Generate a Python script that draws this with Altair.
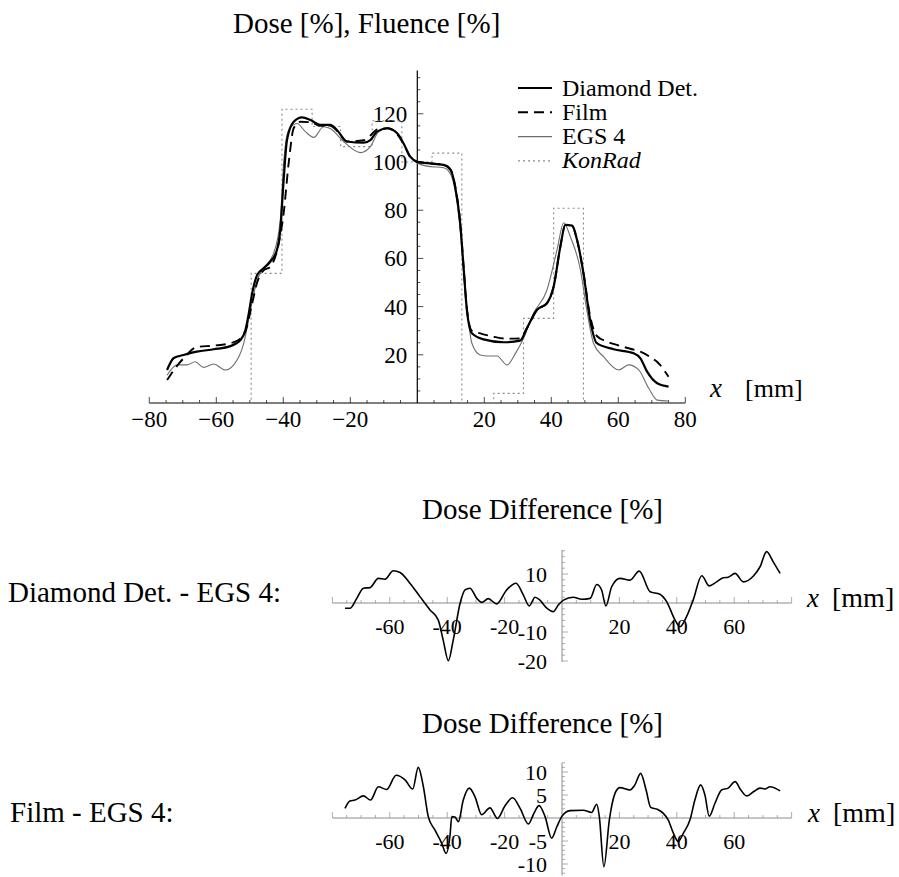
import altair as alt
import pandas as pd

W, H = 899, 877
FONT = "Liberation Serif"

# ------------------------------------------------------------------ data
series_names = ["Diamond Det.", "Film", "EGS 4", "KonRad"]

diamond_x = [-74.7, -72.7, -69.8, -65.8, -60.8, -55.8, -52.8, -51.3, -50.3, -49.3,
             -47.8, -45.9, -43.9, -41.9, -40.9, -39.9, -38.9, -36.9, -34.4, -31.9,
             -29.0, -26.0, -24.0, -21.0, -16.0, -14.0, -12.0, -9.0, -6.0, -4.1,
             -2.1, 0.0, 3.0, 7.9, 9.9, 11.3, 12.8, 13.8, 14.8, 16.3,
             19.8, 25.8, 30.7, 32.7, 35.7, 38.7, 40.7, 42.7, 44.2, 46.2,
             47.7, 49.6, 51.6, 53.6, 58.6, 64.6, 66.6, 68.6, 71.6, 75.0]
diamond_y = [13.7, 18.7, 19.9, 21.3, 22.3, 23.6, 26.1, 30.3, 37.2, 45.5,
             53.1, 55.9, 58.6, 63.5, 71.8, 92.5, 109.1, 116.7, 118.5, 117.4,
             115.4, 115.4, 113.3, 108.5, 108.0, 109.1, 112.6, 114.0, 111.9, 107.7,
             102.2, 100.1, 99.5, 98.8, 96.7, 89.8, 74.6, 56.6, 38.6, 28.9,
             26.4, 25.2, 25.9, 31.0, 38.6, 41.4, 48.3, 64.9, 73.9, 73.6,
             67.6, 53.8, 34.4, 24.8, 22.3, 20.6, 18.5, 13.0, 8.2, 6.8]

film_x = [-74.7, -72.5, -69.8, -65.8, -60.8, -55.8, -52.8, -51.0, -49.5, -47.8,
          -45.9, -43.9, -41.4, -39.9, -38.4, -36.9, -34.9, -31.9, -29.0, -26.0,
          -24.0, -21.0, -16.0, -14.0, -12.0, -9.0, -6.0, -4.1, -2.1, 0.0,
          3.0, 7.9, 9.9, 11.3, 12.8, 13.8, 14.8, 16.3, 18.8, 22.8,
          26.8, 30.7, 32.7, 35.7, 38.7, 40.7, 42.7, 44.2, 46.2, 47.7,
          49.6, 51.6, 53.6, 56.6, 59.6, 63.6, 66.6, 69.6, 72.0, 75.0]
film_y = [9.5, 14.0, 18.5, 23.2, 23.8, 24.8, 26.7, 31.0, 40.0, 50.0,
          55.0, 56.5, 66.0, 78.7, 99.5, 114.0, 116.7, 116.5, 115.0, 115.0,
          113.0, 108.5, 109.0, 111.0, 113.5, 114.0, 111.5, 107.5, 102.0, 100.0,
          99.5, 98.8, 97.0, 90.0, 75.0, 57.0, 39.0, 30.0, 28.9, 27.5,
          26.7, 26.8, 31.0, 38.6, 41.4, 48.3, 64.9, 73.9, 73.6, 67.6,
          54.0, 36.0, 27.8, 25.5, 24.1, 22.5, 21.3, 19.0, 16.5, 10.9]

egs_x = [-74.7, -71.7, -68.8, -66.3, -63.8, -60.8, -57.3, -54.8, -51.8, -49.8,
         -47.8, -45.9, -42.9, -40.9, -39.9, -38.4, -35.9, -33.4, -30.9, -28.0,
         -26.0, -22.0, -17.0, -14.0, -11.5, -8.5, -5.1, -2.1, 0.0, 2.9,
         7.9, 9.9, 11.3, 12.8, 13.8, 14.8, 16.3, 18.8, 21.0, 23.8,
         26.8, 29.3, 31.7, 34.7, 38.7, 41.7, 43.7, 45.7, 48.7, 50.6,
         52.6, 55.6, 60.1, 63.1, 66.1, 69.1, 71.6, 75.0]
egs_y = [11.5, 15.8, 15.8, 17.1, 14.8, 16.2, 13.7, 15.8, 24.8, 38.6,
         51.0, 55.9, 62.1, 75.9, 99.5, 113.3, 116.0, 112.6, 110.2, 114.6,
         113.9, 108.5, 103.9, 106.4, 112.6, 114.0, 110.5, 102.2, 99.6, 98.3,
         97.6, 95.0, 88.0, 72.0, 55.0, 40.0, 24.8, 19.9, 19.5, 19.5,
         15.8, 20.6, 26.8, 37.2, 46.9, 63.5, 74.8, 69.0, 55.2, 38.6,
         24.8, 19.2, 13.7, 15.8, 13.7, 6.1, 1.2, 0.8]

# KonRad fluence: step levels starting at each edge (step-after)
konrad_x = [-80.0, -49.6, -40.4, -31.4, -22.9, -13.5, -4.6, 4.4, 13.3, 22.8, 31.7, 40.7, 49.6, 80.0]
konrad_y = [0.0, 53.8, 121.9, 114.7, 106.4, 117.1, 100.0, 103.7, 0.0, 4.0, 35.1, 80.8, 0.0, 0.0]

# Dose difference Diamond Det. - EGS 4
diff1_x = [-75.6, -73.9, -71.5, -69.2, -66.9, -64.0, -61.7, -58.8, -56.4, -53.0,
           -49.5, -46.0, -43.1, -41.4, -39.6, -37.9, -35.5, -33.8, -32.1, -29.7,
           -28.0, -25.7, -22.8, -19.3, -16.0, -13.5, -11.4, -9.4, -7.7, -5.3,
           -3.0, -1.3, 0.5, 3.9, 6.9, 9.8, 12.1, 13.8, 15.3, 17.3,
           20.2, 23.7, 26.9, 30.7, 34.1, 36.5, 39.4, 41.1, 43.4, 45.7,
           48.7, 51.3, 53.9, 56.2, 57.9, 60.3, 63.2, 66.7, 69.0, 71.3,
           73.6, 76.0]
diff1_y = [-1.8, -1.8, 1.6, 5.1, 5.3, 8.5, 8.2, 11.1, 10.5, 6.8,
           2.2, -2.4, -5.9, -12.8, -19.9, -12.8, -0.1, 4.5, 5.1, 1.6,
           0.2, 1.5, -0.3, 4.5, 6.8, 2.8, -1.0, 2.0, 1.0, -1.8,
           -3.0, -0.7, 1.0, 2.0, 1.3, 1.6, 6.4, 4.5, -1.0, 5.6,
           8.5, 7.9, 11.0, 3.9, 3.0, 0.4, -5.9, -8.2, -4.7, 1.0,
           9.4, 5.9, 7.3, 8.7, 8.9, 10.2, 7.3, 9.3, 12.5, 17.7,
           14.2, 10.2]

# Dose difference Film - EGS 4
diff2_x = [-75.6, -73.9, -72.1, -69.2, -66.7, -64.0, -61.1, -57.8, -54.7, -52.0,
           -50.1, -48.3, -46.6, -44.3, -41.9, -40.4, -39.0, -38.4, -37.3, -36.1,
           -34.4, -32.3, -30.3, -28.0, -25.1, -22.5, -19.9, -17.2, -14.6, -11.7,
           -9.8, -8.0, -5.9, -3.6, -1.8, -0.1, 2.8, 7.4, 10.3, 12.1,
           13.0, 14.6, 16.5, 18.5, 20.2, 23.7, 25.4, 27.4, 29.3, 30.9,
           33.2, 35.3, 37.0, 38.8, 40.5, 42.3, 44.6, 46.3, 48.3, 49.8,
           51.3, 53.3, 55.6, 57.9, 60.3, 62.3, 64.3, 66.7, 69.0, 70.7,
           72.5, 76.0]
diff2_y = [2.1, 3.7, 3.9, 4.8, 3.9, 6.8, 6.2, 9.3, 8.3, 6.3,
           11.0, 6.8, 0.3, -2.6, -5.5, -7.7, -3.7, 0.3, 0.2, -0.8,
           3.9, 6.5, 4.6, 0.7, 2.2, -0.1, 2.6, 4.4, 2.1, -1.3,
           1.0, 2.7, 0.3, -4.4, -1.9, 0.3, 1.6, 1.7, 1.2, 3.0,
           0.3, -10.6, -0.4, 5.4, 6.6, 6.1, 7.2, 9.7, 6.1, 2.3,
           1.9, 1.0, -0.4, -3.3, -5.1, -3.3, -0.4, 3.9, 7.2, 5.0,
           0.4, 3.2, 6.1, 6.5, 7.9, 6.1, 4.8, 5.7, 6.5, 6.3,
           6.8, 5.9]

# tick values / labels
top_xtick_vals = [-80, -60, -40, -20, 20, 40, 60, 80]
top_xtick_labels = ["\u221280", "\u221260", "\u221240", "\u221220", "20", "40", "60", "80"]
top_ytick_vals = [20, 40, 60, 80, 100, 120]
top_ytick_labels = ["20", "40", "60", "80", "100", "120"]
diff_xtick_vals = [-60, -40, -20, 20, 40, 60]
diff_xtick_labels = ["-60", "-40", "-20", "20", "40", "60"]
mid_ytick_vals = [10, -10, -20]
mid_ytick_labels = ["10", "-10", "-20"]
bot_ytick_vals = [10, 5, -5, -10]
bot_ytick_labels = ["10", "5", "-5", "-10"]

for a, b in [(diamond_x, diamond_y), (film_x, film_y), (egs_x, egs_y), (konrad_x, konrad_y),
             (diff1_x, diff1_y), (diff2_x, diff2_y)]:
    if len(a) != len(b):
        raise ValueError(f"length mismatch {len(a)} vs {len(b)}")

# ------------------------------------------------------------------ layout (pixel geometry)
# top panel: origin (417.3, 403), 3.35 px/mm, 2.41 px/%
TOP_X = [-417.3 / 3.35, (W - 417.3) / 3.35]
TOP_Y = [(403 - H) / 2.41, 403 / 2.41]
# difference panels: origin x 562, 2.87 px/mm
DIF_X = [-562 / 2.87, (W - 562) / 2.87]
MID_Y = [(603 - H) / 2.9, 603 / 2.9]
BOT_Y = [(818 - H) / 4.6, 818 / 4.6]


def sc(dom):
    return alt.Scale(domain=dom, zero=False, nice=False)


def enc_xy(xf, yf, xdom, ydom):
    return dict(x=alt.X(xf, type="quantitative", scale=sc(xdom), axis=None),
                y=alt.Y(yf, type="quantitative", scale=sc(ydom), axis=None))


def line(xs, ys, xdom, ydom, color, width, dash=None, interp="monotone"):
    df = pd.DataFrame({"x": xs, "y": ys})
    kw = dict(color=color, strokeWidth=width, interpolate=interp)
    if dash:
        kw["strokeDash"] = dash
    return alt.Chart(df).mark_line(**kw).encode(**enc_xy("x", "y", xdom, ydom))


def axes(xdom, ydom, xr, yr, color, width):
    h = pd.DataFrame({"x": [xr[0]], "x2": [xr[1]], "y": [0]})
    v = pd.DataFrame({"x": [0], "y": [yr[0]], "y2": [yr[1]]})
    hr = alt.Chart(h).mark_rule(color=color, strokeWidth=width).encode(
        x2="x2:Q", **enc_xy("x", "y", xdom, ydom))
    vr = alt.Chart(v).mark_rule(color=color, strokeWidth=width).encode(
        y2="y2:Q", **enc_xy("x", "y", xdom, ydom))
    return [hr, vr]


def xticks(vals, xdom, ydom, size, color):
    df = pd.DataFrame({"v": vals, "z": [0] * len(vals)})
    return alt.Chart(df).mark_tick(orient="vertical", size=size, thickness=1,
                                   yOffset=-size / 2, color=color).encode(
        **enc_xy("v", "z", xdom, ydom))


def yticks(vals, xdom, ydom, size, color):
    df = pd.DataFrame({"v": vals, "z": [0] * len(vals)})
    return alt.Chart(df).mark_tick(orient="horizontal", size=size, thickness=1,
                                   xOffset=size / 2, color=color).encode(
        **enc_xy("z", "v", xdom, ydom))


def xlabels(vals, labs, xdom, ydom, dy, fs):
    df = pd.DataFrame({"v": vals, "z": [0] * len(vals), "t": labs})
    return alt.Chart(df).mark_text(align="center", baseline="alphabetic", dy=dy,
                                   font=FONT, fontSize=fs, color="black").encode(
        text="t:N", **enc_xy("v", "z", xdom, ydom))


def ylabels(vals, labs, xdom, ydom, dx, fs):
    df = pd.DataFrame({"v": vals, "z": [0] * len(vals), "t": labs})
    return alt.Chart(df).mark_text(align="right", baseline="middle", dx=dx, dy=1,
                                   font=FONT, fontSize=fs, color="black").encode(
        text="t:N", **enc_xy("z", "v", xdom, ydom))


def label(text, px, py, fs, align="left", style="normal"):
    return alt.Chart(pd.DataFrame({"t": [text]})).mark_text(
        align=align, baseline="alphabetic", font=FONT, fontSize=fs,
        fontStyle=style, color="black").encode(
        text="t:N", x=alt.value(px), y=alt.value(py))


layers = []

# ---------------- top panel
AX_TOP = "black"
layers += axes(TOP_X, TOP_Y, [-80, 80], [0, 138], AX_TOP, 1.2)
top_minor_x = [v for v in range(-75, 80, 5) if v % 20 != 0]
top_minor_y = [v for v in range(5, 140, 5) if v % 20 != 0]
layers.append(xticks(top_xtick_vals, TOP_X, TOP_Y, 6, AX_TOP))
layers.append(xticks(top_minor_x, TOP_X, TOP_Y, 3, AX_TOP))
layers.append(yticks(top_ytick_vals, TOP_X, TOP_Y, 6, AX_TOP))
layers.append(yticks(top_minor_y, TOP_X, TOP_Y, 3, AX_TOP))
layers.append(xlabels(top_xtick_vals, top_xtick_labels, TOP_X, TOP_Y, 24, 23))
layers.append(ylabels(top_ytick_vals, top_ytick_labels, TOP_X, TOP_Y, -10, 23))

STYLES = {
    "Diamond Det.": dict(color="black", width=2.2, dash=None),
    "Film": dict(color="black", width=1.9, dash=[10, 6]),
    "EGS 4": dict(color="#6e6e6e", width=1.1, dash=None),
    "KonRad": dict(color="#8a8a8a", width=1.1, dash=[2, 3]),
}

layers.append(line(konrad_x, konrad_y, TOP_X, TOP_Y, interp="step-after", **STYLES["KonRad"]))
layers.append(line(egs_x, egs_y, TOP_X, TOP_Y, **STYLES["EGS 4"]))
layers.append(line(film_x, film_y, TOP_X, TOP_Y, **STYLES["Film"]))
layers.append(line(diamond_x, diamond_y, TOP_X, TOP_Y, **STYLES["Diamond Det."]))

# legend (manual, Mathematica-style)
for i, name in enumerate(series_names):
    st = STYLES[name]
    ry = 88 + i * 24.3
    kw = dict(color=st["color"], strokeWidth=st["width"])
    if st["dash"]:
        kw["strokeDash"] = st["dash"]
    layers.append(alt.Chart(pd.DataFrame({"s": [name]})).mark_rule(**kw).encode(
        x=alt.value(518), x2=alt.value(552), y=alt.value(ry)))
    layers.append(label(name, 562, ry + 7.5, 24,
                        style="italic" if name == "KonRad" else "normal"))

layers.append(label("Dose [%], Fluence [%]", 233, 33, 29))
layers.append(label("x", 710, 397, 27, style="italic"))
layers.append(label("[mm]", 745, 397, 26))

# ---------------- difference panels
AX_DIF = "#8c8c8c"
dif_minor_x = [v for v in range(-75, 80, 5) if v % 20 != 0]


def diff_panel(ys_x, ys_y, ydom, yr, ymajor, ylabs, yminor):
    out = []
    out += axes(DIF_X, ydom, [-80, 80], yr, AX_DIF, 1)
    out.append(xticks(diff_xtick_vals + [-80, 80], DIF_X, ydom, 6, AX_DIF))
    out.append(xticks(dif_minor_x, DIF_X, ydom, 3, AX_DIF))
    out.append(yticks(ymajor, DIF_X, ydom, 6, AX_DIF))
    out.append(yticks(yminor, DIF_X, ydom, 3, AX_DIF))
    out.append(line(ys_x, ys_y, DIF_X, ydom, "black", 1.6))
    out.append(xlabels(diff_xtick_vals, diff_xtick_labels, DIF_X, ydom, 31, 22))
    out.append(ylabels(ymajor, ylabs, DIF_X, ydom, -15, 22))
    return out


mid_minor_y = [v for v in range(-20, 19, 2) if v % 10 != 0]
bot_minor_y = [v for v in range(-12, 13, 1) if v % 5 != 0]

layers += diff_panel(diff1_x, diff1_y, MID_Y, [-20.3, 18.3], mid_ytick_vals, mid_ytick_labels, mid_minor_y)
layers += diff_panel(diff2_x, diff2_y, BOT_Y, [-12.5, 12], bot_ytick_vals, bot_ytick_labels, bot_minor_y)

layers.append(label("Dose Difference [%]", 422, 519, 29))
layers.append(label("Dose Difference [%]", 422, 733, 29))
layers.append(label("Diamond Det. - EGS 4:", 8, 602, 29))
layers.append(label("Film - EGS 4:", 10, 822, 29))
layers.append(label("x", 807, 607, 27, style="italic"))
layers.append(label("[mm]", 832, 607, 28))
layers.append(label("x", 808, 822, 27, style="italic"))
layers.append(label("[mm]", 833, 822, 28))

chart = alt.layer(*layers).resolve_scale(
    x="independent", y="independent"
).properties(
    width=W, height=H,
    autosize=alt.AutoSizeParams(type="none"),
    padding={"left": 0, "top": 0, "right": 0, "bottom": 0},
    background="white",
).configure_view(stroke=None)

chart.save("out.html", embed_options={"renderer": "svg", "actions": False})
